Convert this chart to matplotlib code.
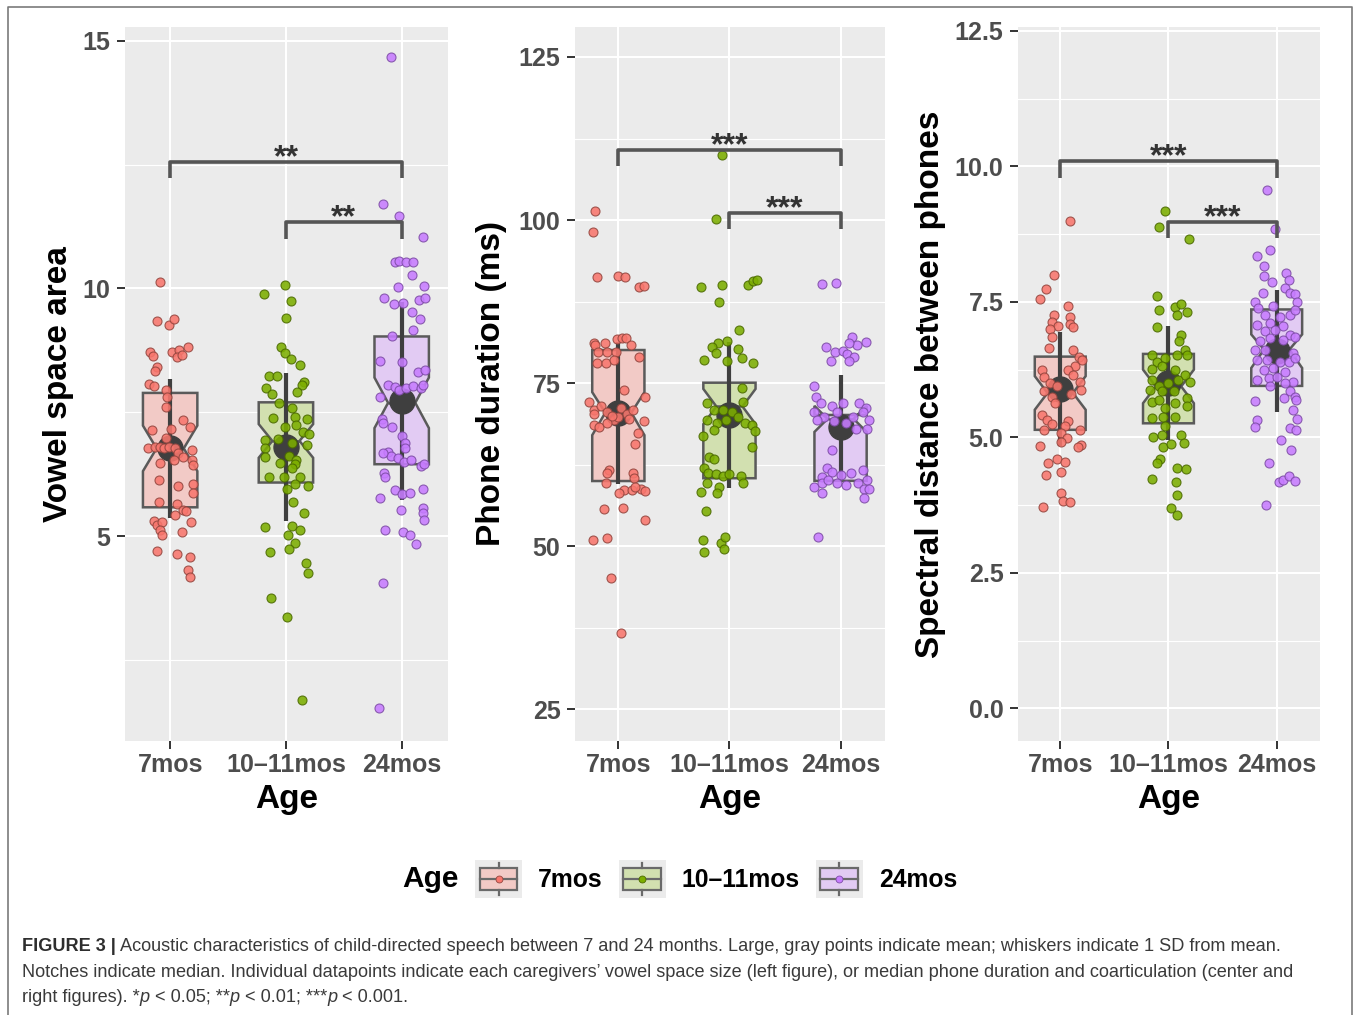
import numpy as np
import matplotlib
matplotlib.use('Agg')
import matplotlib.pyplot as plt
from matplotlib import font_manager
from matplotlib.font_manager import FontProperties
from matplotlib.legend_handler import HandlerBase
from matplotlib.patches import Rectangle
from matplotlib.lines import Line2D

W, H, DPI = 1360, 1015, 100

# ---------------- data ----------------
AGE = ['7mos', '10–11mos', '24mos']

# Vowel space area (left)
vowel_7 = [10.14, 9.34, 9.26, 9.38, 8.71, 8.64, 8.71, 8.76, 8.82, 8.62, 8.66, 8.42, 8.34, 8.06, 8.03,
           7.95, 7.81, 7.61, 7.14, 7.34, 7.21, 7.16, 6.97, 6.77, 6.80, 6.80, 6.77, 6.80, 6.77, 6.67,
           6.60, 6.74, 6.54, 6.43, 6.54, 6.47, 6.13, 6.01, 6.05, 5.86, 5.69, 5.65, 5.53, 5.51, 5.42,
           5.30, 5.22, 5.29, 5.12, 5.02, 5.09, 5.29, 4.70, 4.64, 4.58, 4.31, 4.18]
vowel_7_jit = [-0.09, -0.11, -0.01, 0.03, -0.17, -0.15, 0.02, 0.08, 0.15, 0.06, 0.10, -0.11, -0.13, -0.18, -0.14,
               -0.04, -0.03, -0.04, -0.16, 0.11, 0.17, 0.01, -0.04, -0.19, -0.13, -0.09, -0.05, -0.01, 0.04, 0.07,
               0.11, 0.19, 0.19, 0.20, 0.03, -0.09, -0.10, 0.07, 0.20, 0.20, -0.10, 0.06, 0.11, 0.14, 0.04,
               -0.14, -0.11, -0.07, -0.09, -0.07, 0.10, 0.18, -0.11, 0.06, 0.17, 0.15, 0.17]
vowel_10 = [10.07, 9.89, 9.75, 9.40, 8.81, 8.69, 8.57, 8.45, 8.23, 8.23, 8.12, 8.05, 7.98, 7.87, 7.90,
            7.68, 7.58, 7.39, 7.41, 7.36, 7.24, 7.20, 7.11, 7.07, 6.94, 6.95, 6.77, 6.87, 6.84, 6.60,
            6.62, 6.54, 6.45, 6.47, 6.37, 6.20, 6.20, 6.19, 6.00, 6.06, 5.94, 5.69, 5.46, 5.18, 5.20,
            5.12, 5.02, 4.85, 4.73, 4.68, 4.46, 4.26, 3.74, 3.37, 1.69]
vowel_10_jit = [-0.01, -0.19, 0.04, 0.00, -0.04, -0.01, 0.04, 0.12, -0.15, -0.08, 0.16, 0.14, -0.17, -0.12, 0.10,
                -0.06, 0.05, -0.11, 0.08, 0.18, 0.09, -0.01, 0.15, 0.20, -0.18, -0.07, -0.18, 0.05, 0.18, -0.18,
                0.03, 0.09, 0.08, -0.05, 0.05, -0.15, -0.02, 0.12, 0.19, 0.08, 0.01, 0.06, 0.16, -0.18, 0.05,
                0.12, 0.02, 0.08, 0.03, -0.14, 0.17, 0.19, -0.13, 0.01, 0.14]
vowel_24 = [14.67, 11.71, 11.46, 11.03, 10.53, 10.55, 10.54, 10.53, 10.27, 10.02, 10.04, 9.80, 9.69, 9.70, 9.77,
            9.81, 9.53, 9.38, 9.16, 9.03, 8.54, 8.52, 8.32, 8.35, 8.05, 8.00, 7.95, 7.98, 8.02, 7.98,
            8.05, 7.80, 7.36, 7.28, 7.21, 7.01, 6.87, 6.77, 6.70, 6.62, 6.58, 6.50, 6.54, 6.41, 6.45,
            6.67, 6.27, 6.20, 5.76, 5.93, 5.85, 5.86, 5.94, 5.56, 5.47, 5.32, 5.53, 5.12, 5.09, 5.02,
            4.83, 4.06, 1.52]
vowel_24_jit = [-0.09, -0.16, -0.02, 0.18, -0.06, -0.02, 0.04, 0.10, 0.09, -0.03, 0.19, -0.15, -0.07, 0.01, 0.15,
                0.20, 0.09, 0.16, 0.10, -0.08, -0.19, 0.00, 0.14, 0.20, -0.12, -0.06, -0.02, 0.04, 0.10, 0.17,
                0.18, -0.19, -0.17, -0.16, -0.08, 0.00, 0.03, 0.03, -0.12, -0.09, -0.03, 0.02, 0.08, 0.17, 0.19,
                -0.16, -0.15, -0.14, -0.19, -0.06, 0.00, 0.07, 0.18, 0.18, 0.18, 0.19, -0.01, -0.14, 0.01, 0.07,
                0.12, -0.16, -0.20]
vowel_q1 = [5.58, 6.08, 6.45]
vowel_med = [6.77, 6.92, 7.69]
vowel_q3 = [7.89, 7.70, 9.03]
vowel_ci_lo = [6.31, 6.58, 7.18]
vowel_ci_hi = [7.23, 7.26, 8.20]
vowel_mean = [6.77, 6.80, 7.72]
vowel_sd = [1.40, 1.50, 2.00]

# Phone duration (center)
dur_7 = [101.4, 98.2, 91.3, 91.4, 91.2, 89.8, 89.9, 81.2, 80.9, 81.2, 81.7, 81.9, 81.95, 80.8, 79.8,
         79.7, 79.8, 79.0, 78.0, 78.0, 78.5, 73.9, 72.8, 72.1, 70.9, 71.4, 70.6, 69.3, 71.1, 70.3,
         70.9, 68.6, 68.3, 68.8, 69.1, 70.3, 67.3, 65.7, 61.7, 61.2, 61.2, 60.4, 59.6, 58.6, 58.6,
         58.8, 58.5, 58.2, 59.0, 55.7, 55.8, 54.0, 51.0, 51.3, 45.1, 36.6, 69.8, 70.0, 69.5]
dur_7_jit = [-0.21, -0.23, -0.19, 0.00, 0.06, 0.19, 0.23, -0.22, -0.21, -0.12, -0.01, 0.03, 0.07, 0.11, -0.18,
             -0.10, -0.02, 0.19, -0.19, -0.11, -0.04, 0.05, 0.24, -0.26, -0.22, -0.16, -0.10, -0.04, 0.02, 0.08,
             0.13, -0.22, -0.17, -0.10, 0.23, -0.22, 0.18, 0.15, -0.08, -0.10, 0.13, 0.14, -0.11, 0.05, 0.12,
             0.20, 0.24, 0.01, 0.15, -0.13, 0.04, 0.24, -0.23, -0.10, -0.07, 0.02, 0.00, -0.06, 0.10]
dur_10 = [109.9, 100.1, 89.8, 90.1, 90.1, 90.7, 90.8, 87.5, 83.1, 81.4, 81.1, 80.6, 79.6, 78.5, 78.4,
          80.2, 78.8, 78.1, 74.2, 72.1, 71.9, 70.9, 70.9, 70.6, 69.8, 68.8, 68.6, 67.7, 69.3, 68.8,
          69.3, 66.8, 67.8, 65.2, 63.7, 63.4, 61.9, 61.2, 61.0, 60.8, 61.0, 60.7, 59.6, 59.1, 59.6,
          58.3, 58.1, 55.3, 50.9, 50.5, 51.4, 49.5, 49.1]
dur_10_jit = [-0.07, -0.12, -0.26, -0.07, 0.17, 0.21, 0.25, -0.09, 0.09, -0.02, -0.10, -0.16, -0.12, -0.23, -0.02,
              0.08, 0.11, 0.21, 0.11, 0.12, -0.20, -0.14, -0.06, 0.02, 0.08, 0.14, 0.20, 0.23, -0.20, -0.11,
              -0.03, -0.24, -0.14, 0.20, -0.18, -0.14, -0.23, -0.19, -0.12, -0.06, 0.00, 0.10, -0.20, -0.09, 0.12,
              -0.26, -0.11, -0.21, -0.24, -0.08, -0.04, -0.05, -0.23]
dur_24 = [90.2, 90.3, 82.0, 81.3, 80.9, 81.1, 80.5, 79.8, 79.9, 79.5, 79.0, 78.4, 78.4, 74.6, 72.8,
          71.9, 71.4, 71.9, 71.9, 71.1, 70.6, 69.8, 70.6, 69.8, 70.6, 69.3, 69.1, 68.8, 68.0, 68.0,
          69.3, 64.7, 61.9, 61.4, 60.9, 60.6, 61.2, 61.7, 59.1, 59.6, 60.1, 59.6, 59.4, 59.6, 60.1,
          58.8, 58.1, 58.8, 57.3, 51.4]
dur_24_jit = [-0.17, -0.04, 0.10, 0.23, 0.15, 0.08, -0.13, -0.05, 0.02, 0.06, 0.12, 0.08, -0.09, -0.24, -0.22,
              -0.18, -0.08, 0.02, 0.17, 0.23, -0.24, -0.15, -0.03, 0.11, 0.20, 0.26, -0.06, 0.05, 0.14, 0.24,
              -0.21, -0.08, -0.12, -0.08, 0.00, -0.17, 0.09, 0.20, -0.24, -0.17, -0.11, -0.03, 0.05, 0.16, 0.24,
              0.21, -0.17, 0.26, 0.21, -0.20]
dur_q1 = [59.97, 60.4, 60.0]
dur_med = [70.45, 71.4, 69.5]
dur_q3 = [80.06, 75.05, 70.1]
dur_ci_lo = [67.0, 68.7, 67.5]
dur_ci_hi = [73.6, 74.1, 71.5]
dur_mean = [70.4, 70.1, 68.2]
dur_sd = [10.9, 11.2, 8.0]

# Spectral distance between phones (right)
spec_7 = [8.99, 7.99, 7.74, 7.56, 7.43, 7.26, 7.12, 7.06, 7.00, 7.23, 7.09, 7.03, 6.86, 6.65, 6.61,
          6.49, 6.42, 6.32, 6.25, 6.12, 6.25, 6.15, 6.03, 6.00, 5.94, 5.85, 5.75, 5.80, 5.88, 5.63,
          5.41, 5.32, 5.25, 5.31, 5.14, 5.21, 5.14, 5.08, 4.99, 4.92, 4.84, 4.86, 4.83, 4.60, 4.52,
          4.55, 4.31, 4.37, 3.97, 3.83, 3.80, 3.71]
spec_7_jit = [0.09, -0.06, -0.13, -0.19, 0.07, -0.06, -0.08, -0.02, -0.09, 0.09, 0.09, 0.12, -0.08, -0.10, 0.12,
              0.17, 0.20, 0.14, -0.17, -0.15, 0.07, 0.12, 0.18, -0.09, -0.03, -0.15, -0.08, 0.10, 0.19, -0.05,
              -0.17, -0.12, -0.08, 0.07, -0.15, 0.04, 0.18, 0.01, 0.06, 0.01, -0.19, 0.19, 0.16, -0.03, -0.11,
              0.04, -0.13, 0.01, 0.01, 0.03, 0.09, -0.16]
spec_10 = [9.17, 8.88, 8.66, 7.61, 7.35, 7.40, 7.46, 7.26, 7.32, 7.03, 6.89, 6.77, 6.61, 6.52, 6.40,
           6.46, 6.52, 6.52, 6.26, 6.31, 6.25, 6.15, 6.06, 5.94, 6.00, 6.06, 6.03, 5.88, 5.85, 5.85,
           5.66, 5.69, 5.54, 5.63, 5.72, 5.57, 5.35, 5.38, 5.38, 5.21, 5.01, 5.05, 5.05, 4.89, 4.83,
           4.88, 4.60, 4.52, 4.43, 4.41, 4.23, 4.18, 3.94, 3.69, 3.57]
spec_10_jit = [-0.03, -0.09, 0.19, -0.11, -0.09, 0.06, 0.12, 0.08, 0.17, -0.11, 0.12, 0.10, 0.15, -0.15, -0.11,
               -0.03, 0.08, 0.17, -0.15, -0.06, 0.06, 0.15, -0.15, -0.09, 0.00, 0.09, 0.20, -0.17, -0.06, 0.05,
               -0.15, -0.09, -0.03, 0.06, 0.17, 0.17, -0.15, -0.05, 0.06, -0.03, -0.14, -0.06, 0.12, 0.14, -0.05,
               0.02, -0.08, -0.11, 0.08, 0.16, -0.15, 0.07, 0.08, 0.02, 0.08]
spec_24 = [9.57, 8.84, 8.46, 8.34, 8.16, 7.98, 8.04, 7.91, 7.86, 7.67, 7.75, 7.66, 7.65, 7.50, 7.49,
           7.38, 7.43, 7.26, 7.23, 7.26, 7.35, 7.08, 7.11, 7.05, 6.96, 6.98, 6.89, 6.77, 6.83, 6.80,
           6.86, 6.61, 6.61, 6.55, 6.43, 6.43, 6.40, 6.40, 6.46, 6.25, 6.28, 6.21, 6.06, 6.09, 6.12,
           6.03, 5.95, 6.00, 5.85, 5.75, 5.72, 5.69, 5.68, 5.51, 5.34, 5.32, 5.20, 5.17, 5.14, 4.95,
           4.77, 4.52, 4.18, 4.22, 4.28, 4.20, 3.75]
spec_24_jit = [-0.09, -0.02, -0.06, -0.18, -0.12, -0.12, 0.09, 0.11, -0.04, -0.13, 0.08, 0.12, 0.17, -0.20, 0.19,
               -0.17, -0.03, -0.11, 0.03, 0.12, 0.17, -0.18, -0.06, 0.06, -0.11, -0.02, 0.12, -0.15, -0.06, 0.06,
               0.17, -0.20, -0.11, 0.15, -0.18, -0.09, 0.03, 0.11, 0.17, -0.12, -0.03, 0.08, -0.18, -0.07, 0.00,
               0.15, -0.06, 0.08, 0.12, 0.17, 0.07, 0.18, -0.20, 0.15, 0.19, -0.18, -0.20, 0.12, 0.18, 0.04,
               0.13, -0.07, 0.02, 0.06, 0.11, 0.17, -0.10]
spec_q1 = [5.14, 5.26, 5.95]
spec_med = [5.82, 5.94, 6.62]
spec_q3 = [6.49, 6.54, 7.36]
spec_ci_lo = [5.51, 5.63, 6.28]
spec_ci_hi = [6.13, 6.25, 6.90]
spec_mean = [5.89, 6.00, 6.59]
spec_sd = [1.05, 1.05, 1.13]

# significance brackets: (group a, group b, bar height, tip bottom, label)
vowel_sig = [(1, 3, 12.56, 12.23, '**'), (2, 3, 11.34, 11.00, '**')]
dur_sig = [(1, 3, 110.7, 108.3, '***'), (2, 3, 101.1, 98.6, '***')]
spec_sig = [(1, 3, 10.10, 9.79, '***'), (2, 3, 8.98, 8.68, '***')]

# ---------------- style ----------------
PT_FACE = ['#F8766D', '#7CAE00', '#C77CFF']
PT_EDGE = ['#94463F', '#4B6A00', '#7E4DA6']
BOX_FACE = ['#F2CAC6', '#D2E0B0', '#E2CBF3']
GRAY = '#3F3F3F'

plt.rcParams['font.family'] = ['Liberation Sans', 'DejaVu Sans']

fig = plt.figure(figsize=(W / DPI, H / DPI), dpi=DPI)
fig.patch.set_facecolor('white')


def rect_px(x0, y0, x1, y1):
    return [x0 / W, 1 - y1 / H, (x1 - x0) / W, (y1 - y0) / H]


def draw_panel(ax, groups, jits, q1, med, q3, lo, hi, mean, sd, sig,
               ylim, yticks, yticklabels, yminor, ylabel, ylab_x):
    ax.set_facecolor('#EBEBEB')
    for s in ax.spines.values():
        s.set_visible(False)
    ax.set_xlim(0.61, 3.40)
    ax.set_ylim(*ylim)
    ax.set_xticks([1, 2, 3])
    ax.set_xticklabels(AGE)
    ax.set_yticks(yticks)
    ax.set_yticklabels(yticklabels)
    ax.set_yticks(yminor, minor=True)
    ax.set_axisbelow(True)
    ax.grid(which='major', color='white', lw=1.5)
    ax.grid(which='minor', axis='y', color='white', lw=0.8)
    ax.tick_params(which='major', length=5.5, width=1.4, color='#333333',
                   labelcolor='#4D4D4D', labelsize=18)
    ax.tick_params(axis='y', pad=5)
    ax.tick_params(axis='x', pad=3)
    ax.tick_params(which='minor', length=0)
    for lab in ax.get_xticklabels() + ax.get_yticklabels():
        lab.set_fontweight('bold')

    stats = [dict(med=med[i], q1=q1[i], q3=q3[i], cilo=lo[i], cihi=hi[i],
                  whislo=q1[i], whishi=q3[i], fliers=[]) for i in range(3)]
    bp = ax.bxp(stats, positions=[1, 2, 3], widths=0.47, shownotches=True,
                patch_artist=True, showcaps=False, showfliers=False,
                boxprops=dict(edgecolor='#5A5A5A', linewidth=1.8),
                medianprops=dict(color='#5A5A5A', linewidth=1.8),
                whiskerprops=dict(linewidth=0), manage_ticks=False, zorder=2)
    for patch, c in zip(bp['boxes'], BOX_FACE):
        patch.set_facecolor(c)

    pos = np.arange(1, 4)
    m = np.array(mean)
    s = np.array(sd)
    ax.vlines(pos, m - s, m + s, color=GRAY, lw=3.0, zorder=3)
    ax.plot(pos, m, 'o', ms=18, color=GRAY, ls='none', zorder=3.1)

    for i, (vals, jit) in enumerate(zip(groups, jits)):
        ax.scatter(i + 1 + np.array(jit), vals, s=42, facecolor=PT_FACE[i],
                   edgecolor=PT_EDGE[i], linewidth=0.8, alpha=0.88, zorder=4)

    for a, b, h, tip, label in sig:
        ax.plot([a, a, b, b], [tip, h, h, tip], color='#555555', lw=2.6,
                solid_joinstyle='round', solid_capstyle='butt', zorder=5)
        ax.annotate(label, xy=((a + b) / 2, h), xytext=(0, -3.0),
                    textcoords='offset points', ha='center', va='baseline',
                    fontsize=23, fontweight='bold', color='#333333', zorder=6)

    ax.text(ylab_x, 0.5, ylabel, transform=ax.transAxes, rotation=90,
            ha='center', va='center', fontsize=24, fontweight='bold', color='black')
    ax.text(0.5, -0.0826, 'Age', transform=ax.transAxes, ha='center',
            va='center', fontsize=24, fontweight='bold', color='black')


ax1 = fig.add_axes(rect_px(125, 27, 448, 741))
draw_panel(ax1, [vowel_7, vowel_10, vowel_24], [vowel_7_jit, vowel_10_jit, vowel_24_jit],
           vowel_q1, vowel_med, vowel_q3, vowel_ci_lo, vowel_ci_hi, vowel_mean, vowel_sd,
           vowel_sig, (0.86, 15.28), [5, 10, 15], ['5', '10', '15'], [2.5, 7.5, 12.5],
           'Vowel space area', -0.207)

ax2 = fig.add_axes(rect_px(575, 27, 885, 741))
draw_panel(ax2, [dur_7, dur_10, dur_24], [dur_7_jit, dur_10_jit, dur_24_jit],
           dur_q1, dur_med, dur_q3, dur_ci_lo, dur_ci_hi, dur_mean, dur_sd,
           dur_sig, (20.1, 129.6), [25, 50, 75, 100, 125], ['25', '50', '75', '100', '125'],
           [37.5, 62.5, 87.5, 112.5], 'Phone duration (ms)', -0.268)

ax3 = fig.add_axes(rect_px(1018, 27, 1320, 741))
draw_panel(ax3, [spec_7, spec_10, spec_24], [spec_7_jit, spec_10_jit, spec_24_jit],
           spec_q1, spec_med, spec_q3, spec_ci_lo, spec_ci_hi, spec_mean, spec_sd,
           spec_sig, (-0.60, 12.57), [0, 2.5, 5, 7.5, 10, 12.5],
           ['0.0', '2.5', '5.0', '7.5', '10.0', '12.5'], [1.25, 3.75, 6.25, 8.75, 11.25],
           'Spectral distance between phones', -0.291)


# ---------------- legend ----------------
class KeyHandle:
    def __init__(self, face, dot, edge):
        self.face, self.dot, self.edge = face, dot, edge


class BoxKey(HandlerBase):
    def create_artists(self, legend, orig, xdescent, ydescent, width, height, fontsize, trans):
        x0, y0 = -xdescent, -ydescent
        bg = Rectangle((x0, y0), width, height, facecolor='#EBEBEB', edgecolor='none', transform=trans)
        bw, bh = width * 0.80, height * 0.57
        bx, by = x0 + (width - bw) / 2, y0 + (height - bh) / 2
        cx, cy = x0 + width / 2, y0 + height / 2
        box = Rectangle((bx, by), bw, bh, facecolor=orig.face, edgecolor='#6A6A6A', lw=1.6, transform=trans)
        w1 = Line2D([cx, cx], [y0 + height * 0.08, by], color='#6A6A6A', lw=1.6, transform=trans)
        w2 = Line2D([cx, cx], [by + bh, y0 + height * 0.92], color='#6A6A6A', lw=1.6, transform=trans)
        md = Line2D([bx, bx + bw], [cy, cy], color='#6A6A6A', lw=1.6, transform=trans)
        dt = Line2D([cx], [cy], marker='o', ms=5, mfc=orig.dot, mec=orig.edge, mew=0.6,
                    ls='none', transform=trans)
        return [bg, box, w1, w2, md, dt]


LEG_SIZE = 17.8
LEG_PX = LEG_SIZE * DPI / 72.0
handles = [KeyHandle(BOX_FACE[i], PT_FACE[i], PT_EDGE[i]) for i in range(3)]
fig.legend(handles, AGE, handler_map={KeyHandle: BoxKey()}, loc='center left',
           bbox_to_anchor=(475 / W, 1 - 879 / H), ncol=3, frameon=False,
           prop=dict(weight='bold', size=LEG_SIZE), handlelength=47 / LEG_PX,
           handleheight=50 / LEG_PX, handletextpad=16 / LEG_PX,
           columnspacing=16 / LEG_PX, borderpad=0, borderaxespad=0)
fig.text(430 / W, 1 - 879 / H, 'Age', ha='center', va='center', fontsize=21.5,
         fontweight='bold', color='black')

# ---------------- frame ----------------
fig.add_artist(Line2D([8 / W, 8 / W, 1352 / W, 1352 / W], [0, 1 - 7 / H, 1 - 7 / H, 0],
                      transform=fig.transFigure, color='#7A7A7A', lw=1.2))

# ---------------- caption ----------------
names = {f.name for f in font_manager.fontManager.ttflist}
CAP_FONT = 'Liberation Sans Narrow' if 'Liberation Sans Narrow' in names else 'Liberation Sans'
renderer = fig.canvas.get_renderer()


def fp(size, weight='normal', style='normal'):
    return FontProperties(family=CAP_FONT, size=size, weight=weight, style=style)


def adv(s, size, weight='normal', style='normal'):
    p = fp(size, weight, style)
    w1, _, _ = renderer.get_text_width_height_descent('I' + s + 'I', p, ismath=False)
    w0, _, _ = renderer.get_text_width_height_descent('II', p, ismath=False)
    return w1 - w0


line1 = [('FIGURE 3 |', 'bold', 'normal'),
         (' Acoustic characteristics of child-directed speech between 7 and 24 months. '
          'Large, gray points indicate mean; whiskers indicate 1 SD from mean.', 'normal', 'normal')]
line2 = [('Notches indicate median. Individual datapoints indicate each caregivers\u2019 vowel space '
          'size (left figure), or median phone duration and coarticulation (center and', 'normal', 'normal')]
line3 = [('right figures). *', 'normal', 'normal'), ('p', 'normal', 'italic'),
         (' < 0.05; **', 'normal', 'normal'), ('p', 'normal', 'italic'),
         (' < 0.01; ***', 'normal', 'normal'), ('p', 'normal', 'italic'),
         (' < 0.001.', 'normal', 'normal')]

base = 10.0
tot = sum(adv(s, base, w, st) for s, w, st in line1)
cap_size = base * (1266.0 / tot)


def place(runs, x_px, y_px):
    x = x_px
    for s, w, st in runs:
        fig.text(x / W, 1 - y_px / H, s, fontproperties=fp(cap_size, w, st),
                 ha='left', va='baseline', color='#2E2E2E' if w == 'bold' else '#3A3A3A')
        x += adv(s, cap_size, w, st)


place(line1, 22, 951)
place(line2, 22, 977)
place(line3, 22, 1002)

fig.savefig('out.png', dpi=DPI, facecolor='white')
